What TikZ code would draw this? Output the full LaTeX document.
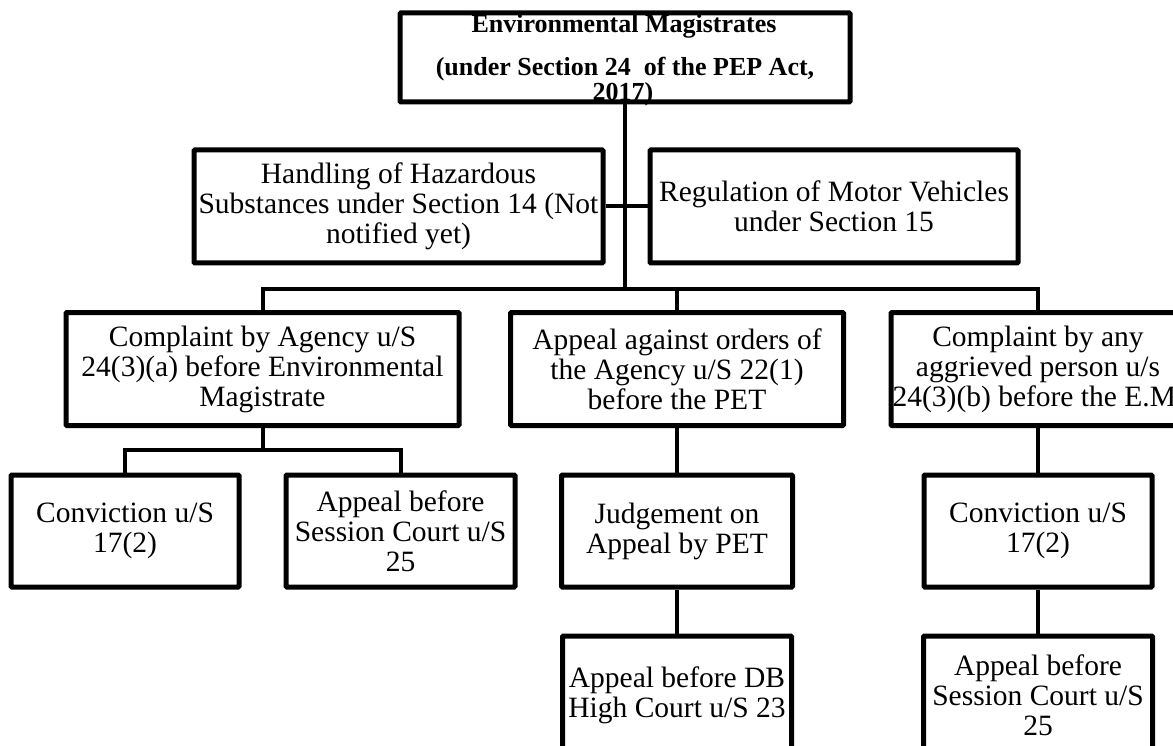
\documentclass[tikz,border=0pt]{standalone}
\usepackage{fontspec}
\setmainfont{Liberation Serif}
\begin{document}
\begin{tikzpicture}[x=1pt,y=-1pt,
  box/.style={draw, line width=5pt, line join=miter, rounded corners=1pt, inner sep=0pt, align=center,
              font=\fontsize{29.5}{30}\selectfont, minimum height=114pt},
  conn/.style={line width=4pt, line join=miter},
  ttl/.style={anchor=base, inner sep=0pt, font=\bfseries\fontsize{26}{28}\selectfont}]
\useasboundingbox (0,0) rectangle (1173,746);
% title
\node[ttl] (t1) at (624,33) {Environmental Magistrates};
\node[ttl] (t2) at (625,76) {(under Section 24~ of the PEP Act,};
\node[ttl] (t3) at (623,101) {2017)};
\node[box, minimum width=450pt, minimum height=89pt] (top) at (625,57.5) {};
% second row
\node[box, minimum width=409pt, minimum height=113pt] (hand) at (398.5,206.5)
  {Handling of Hazardous\\Substances under Section 14 (Not\\notified yet)};
\node[box, minimum width=368pt, minimum height=113pt] (reg) at (834,206.5)
  {Regulation of Motor Vehicles\\under Section 15};
% third row
\node[box, minimum width=393pt, minimum height=113pt] (agency) at (262.5,369)
  {Complaint by Agency u/S\\24(3)(a) before Environmental\\Magistrate};
\node[box, minimum width=333pt, minimum height=113pt] (appeal) at (677,369)
  {Appeal against orders of\\the Agency u/S 22(1)\\before the PET};
\node[box, minimum width=294pt, minimum height=113pt] (cany) at (1038,369)
  {Complaint by any\\aggrieved person u/s\\24(3)(b) before the E.M.};
% fourth row
\node[box, minimum width=228pt, minimum height=112pt] (conv1) at (125,531) {Conviction u/S\\17(2)};
\node[box, minimum width=229pt, minimum height=112pt] (sess1) at (400.5,531) {Appeal before\\Session Court u/S\\25};
\node[box, minimum width=231pt, minimum height=112pt] (judg) at (677,531) {Judgement on\\Appeal by PET};
\node[box, minimum width=228pt, minimum height=112pt] (conv2) at (1038,531) {Conviction u/S\\17(2)};
% fifth row
\node[box, minimum width=229pt, minimum height=118pt] (db) at (677,695)
  {Appeal before DB\\High Court u/S 23};
\node[box, minimum width=229pt, minimum height=118pt] (sess2) at (1038,695)
  {Appeal before\\Session Court u/S\\25};
% connectors
\coordinate (bus) at (0,289);
\coordinate (sb) at (0,450);
\draw[conn] (top.south) -- (top.south |- bus);
\draw[conn] (hand.east) -- (reg.west);
\draw[conn] (agency.north) -- (agency.north |- bus) -- (cany.north |- bus) -- (cany.north);
\draw[conn] (appeal.north) -- (appeal.north |- bus);
\draw[conn] (agency.south) -- (agency.south |- sb);
\draw[conn] (conv1.north) -- (conv1.north |- sb) -- (sess1.north |- sb) -- (sess1.north);
\draw[conn] (appeal.south) -- (judg.north);
\draw[conn] (cany.south) -- (conv2.north);
\draw[conn] (judg.south) -- (db.north);
\draw[conn] (conv2.south) -- (sess2.north);
\end{tikzpicture}
\end{document}
